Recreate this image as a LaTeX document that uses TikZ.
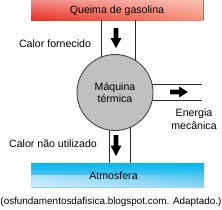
\documentclass[tikz,border=0pt]{standalone}
\usepackage{fontspec}
\setmainfont{Liberation Sans}
\usetikzlibrary{fadings}
\definecolor{redA}{RGB}{234,45,35}
\definecolor{redB}{RGB}{247,145,120}
\definecolor{cyanA}{RGB}{0,180,236}
\definecolor{cyanB}{RGB}{150,215,245}
\definecolor{engfill}{RGB}{192,192,192}
\definecolor{engline}{RGB}{70,70,70}
\definecolor{chanline}{RGB}{40,40,40}
\tikzfading[name=fadetop, top color=transparent!55, bottom color=transparent!100]
\tikzfading[name=fadeleft, left color=transparent!30, right color=transparent!100]
\begin{document}
\begin{tikzpicture}[x=1pt,y=-1pt,
  lbl/.style={inner sep=0pt, font=\fontsize{10.6}{12.5}\selectfont},
  chan/.style={draw=chanline, line width=0.9pt},
  harrow/.style={fill=black}]
\useasboundingbox (0,0) rectangle (222,209);
% top bar
\shade[left color=redA, right color=redB] (31,0) rectangle (203,20);
\fill[white, path fading=fadetop] (31,0) rectangle (203,20);
\draw[gray, line width=0.6pt] (203,0) -- (203,20);
\node[lbl] (fuel) at (117,10.5) {Queima de gasolina};
% bottom bar
\shade[top color=cyanA, bottom color=cyanB] (31,163) rectangle (204,187);
\begin{scope}
\clip (31,175) rectangle (204,187);
\fill[white, path fading=fadeleft, fill opacity=0.8] (31,163) rectangle (204,187);
\end{scope}
\node[lbl] (atm) at (113.5,175.5) {Atmosfera};
% channels
\coordinate (tl) at (101,20); \coordinate (tr) at (135,20);
\coordinate (bl) at (109,163); \coordinate (br) at (130,163);
\coordinate (rt) at (202,84); \coordinate (rb) at (202,100);
\draw[chan] (tl) -- (101,70);
\draw[chan] (tr) -- (135,70);
\draw[chan] (bl) -- (109,120);
\draw[chan] (br) -- (130,120);
\draw[chan] (rt) -- (130,84);
\draw[chan] (rb) -- (130,100);
% engine
\node[circle, minimum size=76pt, inner sep=0pt, fill=engfill, draw=engline, line width=0.9pt] (eng) at (115,92.5) {};
\node[lbl, align=center] at (eng.center) {Máquina\\térmica};
% arrows
\fill[harrow] (113.7,28) -- (118.3,28) -- (118.3,38) -- (121.5,38) -- (116,48) -- (110.5,38) -- (113.7,38) -- cycle;
\fill[harrow] (113.7,135) -- (118.3,135) -- (118.3,145.5) -- (121.5,145.5) -- (116,156) -- (110.5,145.5) -- (113.7,145.5) -- cycle;
\fill[harrow] (170,89.7) -- (179,89.7) -- (179,86.5) -- (188,92) -- (179,97.5) -- (179,94.3) -- (170,94.3) -- cycle;
% labels
\node[lbl] (qin) at (55,44) {Calor fornecido};
\node[lbl] (qout) at (53,144) {Calor não utilizado};
\node[lbl, align=center] (work) at (194,119) {Energia\\mecânica};
\node[inner sep=0pt, font=\fontsize{9.9}{12}\selectfont] (src) at (111,201.5) {(osfundamentosdafisica.blogspot.com. Adaptado.)};
\end{tikzpicture}
\end{document}
